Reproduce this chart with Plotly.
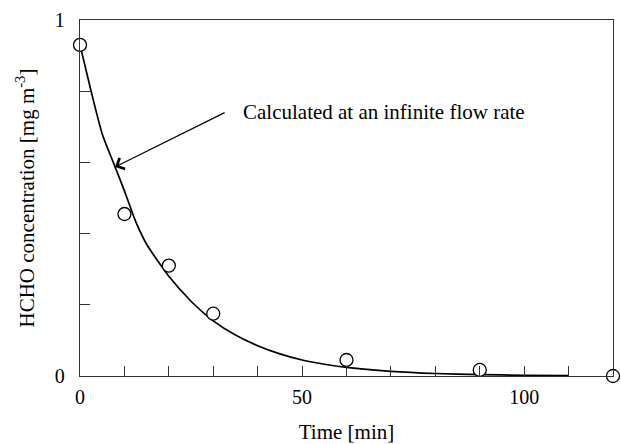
import plotly.graph_objects as go

# Measured data (open circles)
time_meas = [0, 10, 20, 30, 60, 90, 120]
conc_meas = [0.93, 0.455, 0.31, 0.175, 0.045, 0.017, 0.0]

# Calculated curve (infinite flow rate)
time_calc = [0, 2.5, 5, 7.5, 10, 12.5, 15, 20, 25, 30, 35, 40, 45, 50, 55, 60, 70, 80, 90, 100, 110]
conc_calc = [0.93, 0.80, 0.68, 0.60, 0.52, 0.435, 0.37, 0.28, 0.21, 0.155, 0.115, 0.085,
             0.062, 0.045, 0.033, 0.024, 0.013, 0.007, 0.004, 0.002, 0.001]

x_ticks = [0, 10, 20, 30, 40, 50, 60, 70, 80, 90, 100, 110, 120]
x_ticklabels = ["0", "", "", "", "", "50", "", "", "", "", "100", "", ""]
y_ticks = [0, 0.2, 0.4, 0.6, 0.8, 1.0]
y_ticklabels = ["0", "", "", "", "", "1"]

annotation_text = "Calculated at an infinite flow rate"
arrow_head = (7.9, 0.587)
arrow_tail = (32.9, 0.742)
text_pos = (36.3, 0.742)

FONT = "Liberation Serif, Times New Roman, serif"

fig = go.Figure()
fig.add_trace(go.Scatter(
    x=time_calc, y=conc_calc, mode="lines",
    line=dict(color="black", width=1.7, shape="spline", smoothing=0.6),
    showlegend=False, hoverinfo="skip"))
fig.add_trace(go.Scatter(
    x=time_meas, y=conc_meas, mode="markers",
    marker=dict(symbol="circle", size=13, color="white",
                line=dict(color="black", width=1.3)),
    cliponaxis=False, showlegend=False))

fig.add_annotation(x=arrow_head[0], y=arrow_head[1], ax=arrow_tail[0], ay=arrow_tail[1],
                   xref="x", yref="y", axref="x", ayref="y", text="",
                   showarrow=True, arrowhead=4, arrowsize=2.0, arrowwidth=1.2,
                   arrowcolor="black")
fig.add_annotation(x=text_pos[0], y=text_pos[1], xref="x", yref="y",
                   text=annotation_text, showarrow=False, xanchor="left", yanchor="middle",
                   font=dict(family=FONT, size=21, color="black"))

axis_common = dict(showgrid=False, zeroline=False, showline=True, linecolor="#333333",
                   linewidth=1.3, mirror=True, ticks="inside", ticklen=10, tickwidth=1.1,
                   tickcolor="#333333", tickfont=dict(family=FONT, size=20, color="black"),
                   automargin=False)

fig.update_xaxes(range=[0, 120], tickmode="array", tickvals=x_ticks, ticktext=x_ticklabels,
                 ticklabelstandoff=3,
                 title=dict(text="Time [min]", font=dict(family=FONT, size=21, color="black"),
                            standoff=17),
                 **axis_common)
fig.update_yaxes(range=[0, 1], tickmode="array", tickvals=y_ticks, ticktext=y_ticklabels,
                 ticklabelstandoff=10,
                 title=dict(text="HCHO concentration [mg m<sup>-3</sup>]",
                            font=dict(family=FONT, size=21, color="black"), standoff=14),
                 **axis_common)

fig.update_layout(width=621, height=444, margin=dict(l=80, r=8, t=20, b=68),
                  plot_bgcolor="white", paper_bgcolor="white")

fig.write_html("out.html")
